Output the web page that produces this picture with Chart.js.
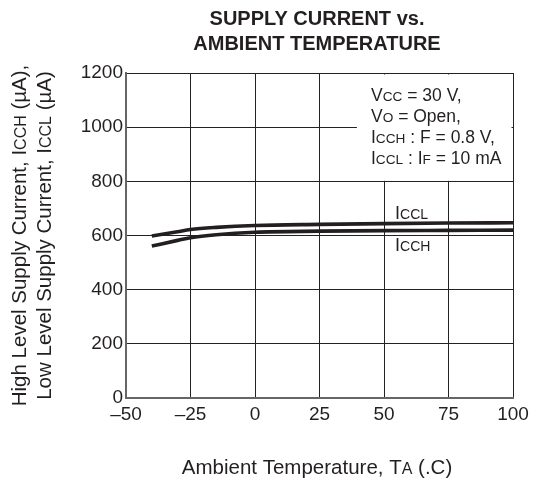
<!DOCTYPE html>
<html>
<head>
<meta charset="utf-8">
<script src="https://cdn.jsdelivr.net/npm/chart.js@4.4.1/dist/chart.umd.min.js"></script>
<style>
html,body{margin:0;padding:0;background:#fff;}
#wrap{width:537px;height:486px;position:relative;}
</style>
</head>
<body>
<div id="wrap"><canvas id="c" width="537" height="486"></canvas></div>
<script>
// ---- data ----
const temps = [-40, -30, -25, -15, 0, 25, 50, 75, 100];
const icclValues = [598, 614, 622, 630, 637, 641, 644, 646, 647];
const icchValues = [561, 582, 592, 603, 612, 616, 618, 619, 620];
const xTicks = [-50, -25, 0, 25, 50, 75, 100];
const yTicks = [0, 200, 400, 600, 800, 1000, 1200];

const FONT = '"Liberation Sans", Arial, Helvetica, sans-serif';
const INK = '#231f20';
const SMALL = 0.78;

function pts(xs, ys){ return xs.map((x,i)=>({x:x, y:ys[i]})); }

function setFont(ctx, s, size, weight){
  ctx.font = (weight||'normal') + ' ' + (s[1]? size*SMALL : size) + 'px ' + FONT;
}
function richWidth(ctx, segs, size, weight){
  let w = 0;
  segs.forEach(s=>{ setFont(ctx, s, size, weight); w += ctx.measureText(s[0]).width; });
  return w;
}
function drawRich(ctx, segs, x, y, align, size, weight){
  const w = richWidth(ctx, segs, size, weight);
  let cx = align === 'center' ? x - w/2 : (align === 'right' ? x - w : x);
  ctx.textBaseline = 'alphabetic';
  ctx.textAlign = 'left';
  segs.forEach(s=>{
    setFont(ctx, s, size, weight);
    ctx.fillText(s[0], cx, y);
    cx += ctx.measureText(s[0]).width;
  });
}

const textPlugin = {
  id: 'texts',
  beforeDatasetsDraw(chart){
    const ctx = chart.ctx, xs = chart.scales.x, ys = chart.scales.y;
    const l = xs.getPixelForValue(39.5), r = xs.getPixelForValue(100);
    const t = ys.getPixelForValue(1200), b = ys.getPixelForValue(800);
    ctx.save();
    ctx.fillStyle = '#fff';
    ctx.fillRect(l, t + 1.5, r - l - 1.5, b - t - 2);
    ctx.restore();
  },
  afterDraw(chart){
    const ctx = chart.ctx, ys = chart.scales.y;
    ctx.save();
    ctx.fillStyle = INK;
    // title
    drawRich(ctx, [['SUPPLY CURRENT vs.',0]], 317, 25, 'center', 20, 'bold');
    drawRich(ctx, [['AMBIENT TEMPERATURE',0]], 317, 50, 'center', 20, 'bold');
    // note box
    const nx = 371, ns = 17.5;
    drawRich(ctx, [['V',0],['CC',1],[' = 30 V,',0]], nx, 101, 'left', ns);
    drawRich(ctx, [['V',0],['O',1],[' = Open,',0]], nx, 122, 'left', ns);
    drawRich(ctx, [['I',0],['CCH',1],[' : F = 0.8 V,',0]], nx, 143, 'left', ns);
    drawRich(ctx, [['I',0],['CCL',1],[' : I',0],['F',1],[' = 10 mA',0]], nx, 164, 'left', ns);
    // curve labels
    drawRich(ctx, [['I',0],['CCL',1]], 395, 219, 'left', 18);
    drawRich(ctx, [['I',0],['CCH',1]], 395, 251, 'left', 18);
    // x title
    drawRich(ctx, [['Ambient Temperature, T',0],['A',1],[' (.C)',0]], 317, 474, 'center', 20.5);
    // y title
    const cy = (ys.top + ys.bottom)/2;
    ctx.save();
    ctx.translate(26, cy);
    ctx.rotate(-Math.PI/2);
    drawRich(ctx, [['High Level Supply Current, I',0],['CCH',1],[' (µA),',0]], 0, 0, 'center', 20.5);
    ctx.restore();
    ctx.save();
    ctx.translate(51, cy);
    ctx.rotate(-Math.PI/2);
    drawRich(ctx, [['Low Level Supply Current, I',0],['CCL',1],[' (µA)',0]], 0, 0, 'center', 20.5);
    ctx.restore();
    ctx.restore();
  }
};

new Chart(document.getElementById('c'), {
  type: 'line',
  data: {
    datasets: [
      { label: 'ICCL', data: pts(temps, icclValues), borderColor: INK, borderWidth: 3.6,
        pointRadius: 0, cubicInterpolationMode: 'monotone', fill: false },
      { label: 'ICCH', data: pts(temps, icchValues), borderColor: INK, borderWidth: 3.6,
        pointRadius: 0, cubicInterpolationMode: 'monotone', fill: false }
    ]
  },
  options: {
    responsive: false,
    animation: false,
    events: [],
    layout: { padding: { left: 0, top: 73, right: 24, bottom: 0 } },
    plugins: { legend: { display: false }, tooltip: { enabled: false }, title: { display: false } },
    scales: {
      x: {
        type: 'linear', min: -50, max: 100,
        afterBuildTicks(s){ s.ticks = xTicks.map(v=>({value:v})); },
        afterFit(s){ s.height = 88; },
        grid: { color: '#222', lineWidth: 1, drawTicks: false },
        border: { color: '#666', width: 2 },
        ticks: { color: INK, font: { family: FONT, size: 19 }, padding: 5, maxRotation: 0,
          callback: v => v < 0 ? '\u2013' + Math.abs(v) : String(v) }
      },
      y: {
        type: 'linear', min: 0, max: 1200,
        afterBuildTicks(s){ s.ticks = yTicks.map(v=>({value:v})); },
        afterFit(s){ s.width = 126; },
        grid: { color: '#222', lineWidth: 1, drawTicks: false },
        border: { color: '#666', width: 2 },
        ticks: { color: INK, font: { family: FONT, size: 19 }, padding: 3,
          callback: v => String(v) }
      }
    }
  },
  plugins: [textPlugin]
});
</script>
</body>
</html>
